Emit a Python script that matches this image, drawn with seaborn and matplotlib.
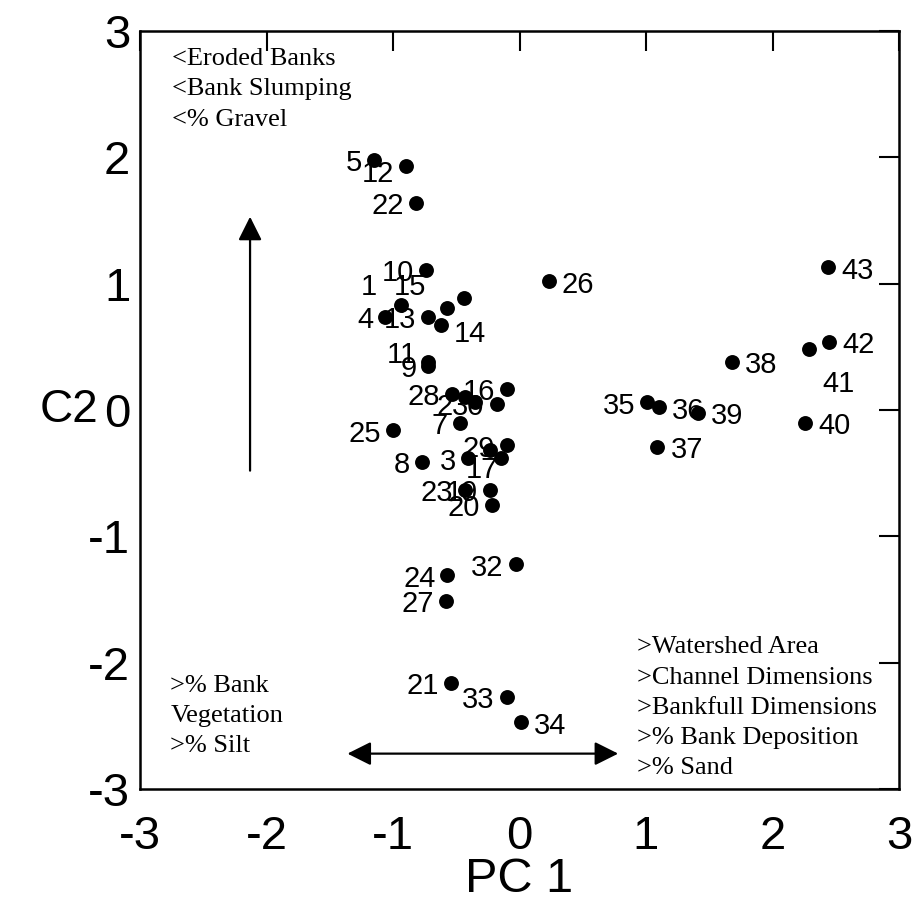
import matplotlib
matplotlib.use("Agg")
import matplotlib.pyplot as plt
import seaborn as sns
import pandas as pd

# Site scores on the first two principal components
site = list(range(1, 44))
pc1 = [-0.94, -0.43, -0.41, -1.06, -1.15, -0.44, -0.47, -0.77, -0.72, -0.74,
       -0.72, -0.90, -0.72, -0.62, -0.57, -0.10, -0.15, -0.35, -0.23, -0.22,
       -0.54, -0.82, -0.43, -0.57, -1.00, 0.23, -0.58, -0.53, -0.10, -0.18,
       -0.23, -0.03, -0.10, 0.01, 1.01, 1.10, 1.09, 1.68, 1.41, 2.26,
       2.29, 2.45, 2.44]
c2 = [0.83, 0.10, -0.38, 0.74, 1.98, 0.89, -0.10, -0.41, 0.35, 1.11,
      0.38, 1.93, 0.74, 0.67, 0.81, 0.17, -0.38, 0.06, -0.63, -0.75,
      -2.16, 1.64, -0.63, -1.31, -0.16, 1.02, -1.51, 0.13, -0.28, 0.05,
      -0.32, -1.22, -2.27, -2.47, 0.06, 0.02, -0.29, 0.38, -0.02, -0.10,
      0.48, 0.54, 1.13]

axis_ticks = [-3, -2, -1, 0, 1, 2, 3]
tick_labels = ["-3", "-2", "-1", "0", "1", "2", "3"]

notes_upper_left = ["<Eroded Banks", "<Bank Slumping", "<% Gravel"]
notes_lower_left = [">% Bank", "Vegetation", ">% Silt"]
notes_lower_right = [">Watershed Area", ">Channel Dimensions",
                     ">Bankfull Dimensions", ">% Bank Deposition", ">% Sand"]

# label placement (pixel offsets from the marker); sites with hidden labels are skipped
right_side = {14, 26, 34, 36, 37, 38, 39, 40, 41, 42, 43}
nudge = {1: (-12, -22), 15: (-9, -24), 11: (0, -10), 12: (0, 4), 2: (0, 6),
         17: (10, 8), 14: (0, 5), 41: (0, 31)}
unlabelled = {6, 18, 31}

sns.set_theme(style="white")
plt.rcParams["font.family"] = ["Liberation Sans", "DejaVu Sans"]
plt.rcParams["axes.unicode_minus"] = False

fig = plt.figure(figsize=(9.18, 9.09), dpi=100)
ax = fig.add_axes([140 / 918, 1 - 789 / 909, 759 / 918, 758 / 909])

df = pd.DataFrame({"site": site, "PC1": pc1, "C2": c2})
sns.scatterplot(data=df, x="PC1", y="C2", color="black", s=115,
                linewidth=0, ax=ax, legend=False, zorder=3)

PX = 0.72  # points per pixel at 100 dpi
for s, x, y in zip(site, pc1, c2):
    if s in unlabelled:
        continue
    ddx, ddy = nudge.get(s, (0, 0))
    if s in right_side:
        dx, ha = 13 + ddx, "left"
    else:
        dx, ha = -12 + ddx, "right"
    dy = 11.5 + ddy
    ax.annotate(str(s), (x, y), xytext=(dx * PX, -dy * PX),
                textcoords="offset points", ha=ha, va="baseline",
                fontsize=21, color="black", zorder=4)

ax.set_xlim(-3, 3)
ax.set_ylim(-3, 3)
ax.set_xticks(axis_ticks)
ax.set_xticklabels(tick_labels)
ax.set_yticks(axis_ticks)
ax.set_yticklabels(tick_labels)
ax.tick_params(direction="in", length=14.4, width=1.5, color="black",
               top=True, right=True, labelsize=34, labelcolor="black")
ax.tick_params(axis="x", pad=18.5)
ax.tick_params(axis="y", pad=7)
for sp in ax.spines.values():
    sp.set_linewidth(1.8)
    sp.set_color("black")

ax.set_xlabel("PC 1", fontsize=35, color="black")
ax.xaxis.label.set_va("center")
ax.xaxis.set_label_coords(0.5, -0.12)
ax.set_ylabel("C2", fontsize=33, rotation=0, color="black")
ax.yaxis.label.set_ha("right")
ax.yaxis.label.set_va("center")
ax.yaxis.set_label_coords(-0.055, 0.5)

# interpretive arrows along the two axes
ax.annotate("", xy=(-2.13, 1.53), xytext=(-2.13, -0.48),
            arrowprops=dict(arrowstyle="-|>", mutation_scale=36, lw=1.6,
                            color="black", shrinkA=0, shrinkB=0))
ax.annotate("", xy=(0.78, -2.72), xytext=(-1.36, -2.72),
            arrowprops=dict(arrowstyle="<|-|>", mutation_scale=36, lw=1.6,
                            color="black", shrinkA=0, shrinkB=0))

serif = ["Liberation Serif", "DejaVu Serif"]
step = 0.24
for i, t in enumerate(notes_upper_left):
    ax.text(-2.75, 2.73 - i * step, t, family=serif, fontsize=19,
            va="baseline", ha="left", color="black")
for i, t in enumerate(notes_lower_left):
    ax.text(-2.76, -2.23 - i * step, t, family=serif, fontsize=19,
            va="baseline", ha="left", color="black")
for i, t in enumerate(notes_lower_right):
    ax.text(0.93, -1.925 - i * step, t, family=serif, fontsize=19,
            va="baseline", ha="left", color="black")

fig.savefig("out.png", dpi=100, facecolor="white")
